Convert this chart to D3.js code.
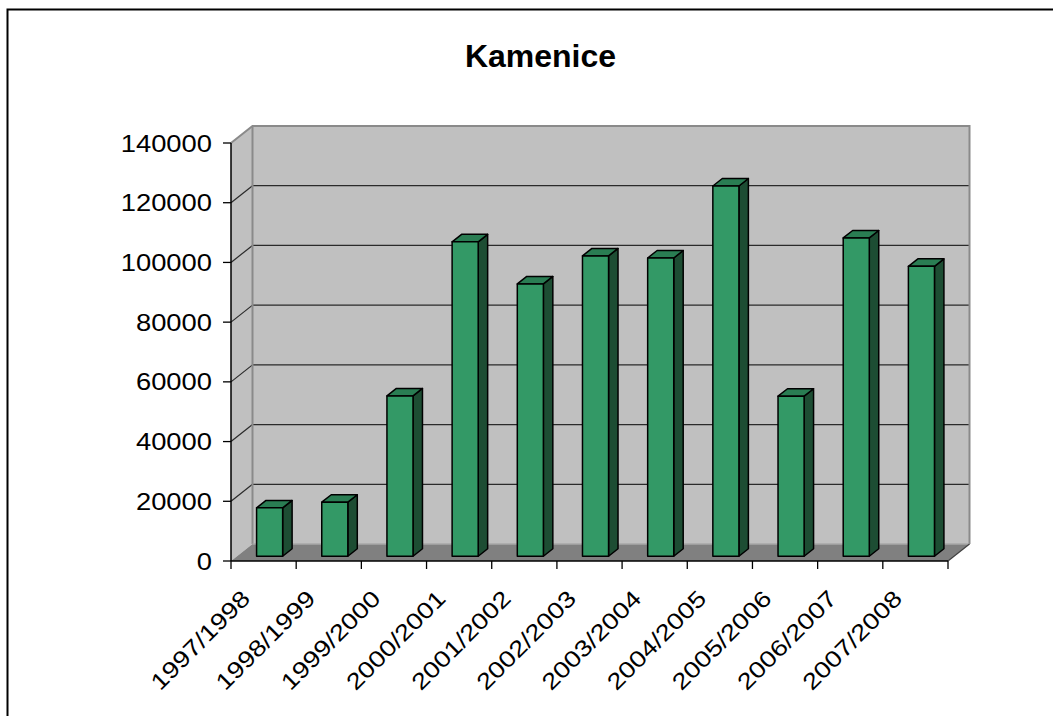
<!DOCTYPE html>
<html>
<head>
<meta charset="utf-8">
<script src="https://cdn.jsdelivr.net/npm/d3@7"></script>
<style>
  html, body { margin: 0; padding: 0; background: #fff; }
  svg { display: block; }
  text { font-family: "Liberation Sans", Arial, sans-serif; fill: #000; }
</style>
</head>
<body>
<div id="chart"></div>
<script>
const title = "Kamenice";
const categories = ["1997/1998","1998/1999","1999/2000","2000/2001","2001/2002","2002/2003","2003/2004","2004/2005","2005/2006","2006/2007","2007/2008"];
const values = [16200, 18100, 53700, 105300, 91200, 100600, 99900, 124000, 53600, 106600, 97100];
const yTicks = [0, 20000, 40000, 60000, 80000, 100000, 120000, 140000];

const W = 1053, H = 716;
const svg = d3.select("#chart").append("svg").attr("width", W).attr("height", H);

// plot geometry (front plane)
const x0 = 231, x1 = 948, yBottom = 561, yTop = 143;
const DX = 21.5, DY = -17;          // depth offset front -> back
const f1 = 0.28, f2 = 0.72;         // bar depth range (fraction of depth)

const y = d3.scaleLinear().domain([0, 140000]).range([yBottom, yTop]);
const x = d3.scaleBand().domain(categories).range([x0, x1]).paddingInner(0.6).paddingOuter(0.3);
const step = x.step();

// outer chart border (only top/left visible)
svg.append("rect").attr("x", 7.5).attr("y", 9.5).attr("width", 1200).attr("height", 900)
  .attr("fill", "none").attr("stroke", "#000").attr("stroke-width", 2);

// title
svg.append("text").attr("x", 540.5).attr("y", 66.5).attr("text-anchor", "middle")
  .style("font-size", "32px").style("font-weight", "bold").text(title);

const pts = a => a.map(p => p.join(",")).join(" ");
const bx0 = x0 + DX, bx1 = x1 + DX, byB = yBottom + DY, byT = yTop + DY;

// walls and floor
svg.append("polygon").attr("points", pts([[bx0, byB], [bx1, byB], [bx1, byT], [bx0, byT]])).attr("fill", "#c0c0c0");
svg.append("polygon").attr("points", pts([[x0, yBottom], [bx0, byB], [bx0, byT], [x0, yTop]])).attr("fill", "#c0c0c0");
svg.append("polygon").attr("points", pts([[x0, yBottom], [x1, yBottom], [bx1, byB], [bx0, byB]])).attr("fill", "#808080");

// gridlines
const grid = yTicks.filter(v => v > 0 && v < 140000);
svg.append("g").selectAll("line.gb").data(grid).join("line")
  .attr("x1", bx0).attr("x2", bx1).attr("y1", d => y(d) + DY).attr("y2", d => y(d) + DY)
  .attr("stroke", "#2a2a2a").attr("stroke-width", 1.2);
svg.append("g").selectAll("line.gl").data(grid).join("line")
  .attr("x1", x0).attr("x2", bx0).attr("y1", d => y(d)).attr("y2", d => y(d) + DY)
  .attr("stroke", "#2a2a2a").attr("stroke-width", 1.2);

// wall borders
const wallEdge = "#8a8a8a";
svg.append("polyline").attr("points", pts([[x0, yTop], [bx0, byT], [bx1, byT], [bx1, byB]]))
  .attr("fill", "none").attr("stroke", wallEdge).attr("stroke-width", 2);
svg.append("line").attr("x1", bx0).attr("x2", bx0).attr("y1", byT).attr("y2", byB)
  .attr("stroke", wallEdge).attr("stroke-width", 2);
svg.append("line").attr("x1", bx0).attr("x2", bx1).attr("y1", byB).attr("y2", byB)
  .attr("stroke", "#a8a8a8").attr("stroke-width", 1.5);
// floor right edge
svg.append("line").attr("x1", x1).attr("x2", bx1).attr("y1", yBottom).attr("y2", byB)
  .attr("stroke", "#404040").attr("stroke-width", 1.2);

// value axis
svg.append("line").attr("x1", x0).attr("x2", x0).attr("y1", yTop).attr("y2", yBottom)
  .attr("stroke", "#000").attr("stroke-width", 1.5);
svg.append("g").selectAll("line").data(yTicks).join("line")
  .attr("x1", x0 - 8).attr("x2", x0).attr("y1", d => y(d)).attr("y2", d => y(d))
  .attr("stroke", "#000").attr("stroke-width", 1.3);
svg.append("g").selectAll("text").data(yTicks).join("text")
  .attr("transform", d => `translate(212,${y(d) + 8.6}) scale(1.19,1)`)
  .attr("text-anchor", "end").style("font-size", "23px").text(d => d);

// category axis
svg.append("line").attr("x1", x0).attr("x2", x1).attr("y1", yBottom).attr("y2", yBottom)
  .attr("stroke", "#000").attr("stroke-width", 1.5);
const bounds = d3.range(categories.length + 1).map(i => x0 + i * step);
svg.append("g").selectAll("line").data(bounds).join("line")
  .attr("x1", d => d).attr("x2", d => d).attr("y1", yBottom).attr("y2", yBottom + 8)
  .attr("stroke", "#000").attr("stroke-width", 1.3);
svg.append("g").selectAll("text").data(categories).join("text")
  .attr("transform", d => `translate(${x(d) + x.bandwidth() / 2 - 12},${yBottom + 39}) rotate(-45) scale(1.19,1)`)
  .attr("text-anchor", "end").style("font-size", "23px").text(d => d);

// bars
const bw = x.bandwidth();
const ddx = (f2 - f1) * DX, ddy = (f2 - f1) * DY;
const bars = svg.append("g").selectAll("g").data(categories.map((c, i) => ({ c, v: values[i] }))).join("g");
bars.each(function (d) {
  const g = d3.select(this);
  const L = x(d.c) + f1 * DX, R = L + bw;
  const B = y(0) + f1 * DY, T = y(d.v) + f1 * DY;
  const stroke = { stroke: "#000", "stroke-width": 1.5, "stroke-linejoin": "round" };
  const face = (p, fill) => { const e = g.append("polygon").attr("points", pts(p)).attr("fill", fill); for (const k in stroke) e.attr(k, stroke[k]); };
  face([[R, B], [R + ddx, B + ddy], [R + ddx, T + ddy], [R, T]], "#1d4d33");
  face([[L, T], [R, T], [R + ddx, T + ddy], [L + ddx, T + ddy]], "#2a7d53");
  face([[L, B], [R, B], [R, T], [L, T]], "#339966");
});
</script>
</body>
</html>
